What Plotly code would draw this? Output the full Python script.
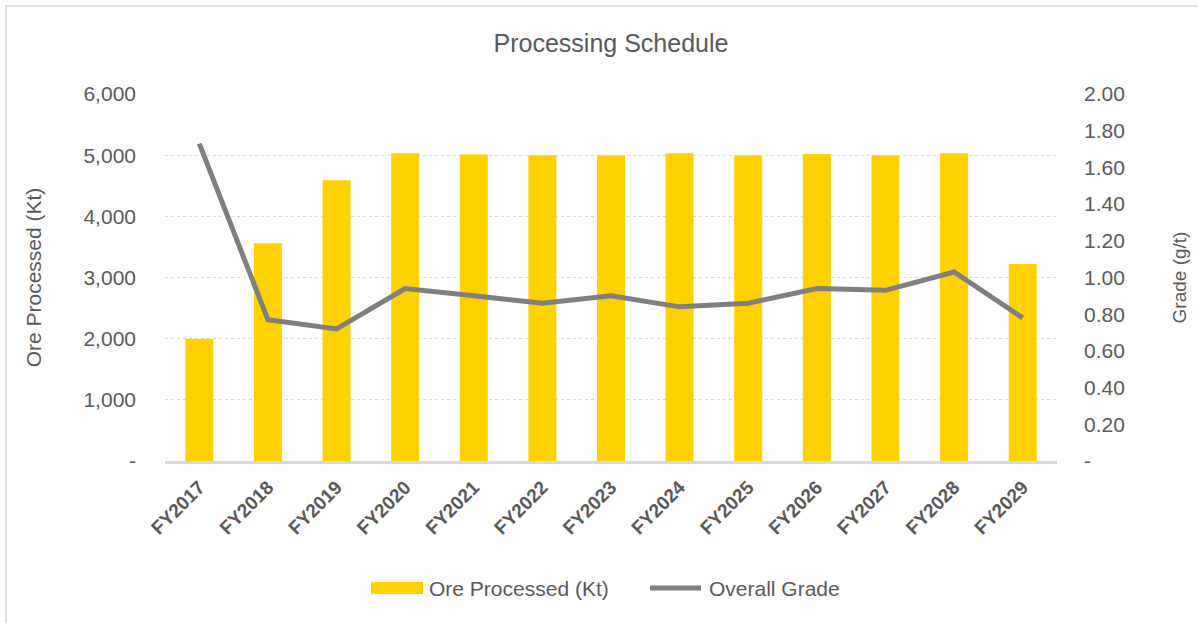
import plotly.graph_objects as go

categories = ["FY2017", "FY2018", "FY2019", "FY2020", "FY2021", "FY2022", "FY2023",
              "FY2024", "FY2025", "FY2026", "FY2027", "FY2028", "FY2029"]
ore_processed_kt = [2000, 3560, 4590, 5030, 5010, 5000, 5000, 5030, 5000, 5020, 5000, 5030, 3220]
overall_grade = [1.73, 0.77, 0.72, 0.94, 0.90, 0.86, 0.90, 0.84, 0.86, 0.94, 0.93, 1.03, 0.78]

left_ticks = [0, 1000, 2000, 3000, 4000, 5000, 6000]
left_ticktext = ["-", "1,000", "2,000", "3,000", "4,000", "5,000", "6,000"]
right_ticks = [0, 0.2, 0.4, 0.6, 0.8, 1.0, 1.2, 1.4, 1.6, 1.8, 2.0]
right_ticktext = ["-", "0.20", "0.40", "0.60", "0.80", "1.00", "1.20", "1.40", "1.60", "1.80", "2.00"]

FONT = "Liberation Sans, Arial, sans-serif"
GREY = "#595959"
BAR_COLOR = "#FFD100"
LINE_COLOR = "#7F7F7F"

W, H = 1198, 623
L, R, T, B = 165, 141, 94, 162
pw, ph = W - L - R, H - T - B


def px(x):
    return (x - L) / pw


def py(y):
    return (H - B - y) / ph


fig = go.Figure()
fig.add_trace(go.Bar(x=categories, y=ore_processed_kt, name="Ore Processed (Kt)",
                     marker=dict(color=BAR_COLOR, line=dict(width=0)), yaxis="y"))
fig.add_trace(go.Scatter(x=categories, y=overall_grade, name="Overall Grade", mode="lines",
                         line=dict(color=LINE_COLOR, width=5), yaxis="y2"))

legend_y = 588
annotations = [
    dict(text="Ore Processed (Kt)", xref="paper", yref="paper", x=px(427), y=py(legend_y),
         xanchor="left", yanchor="middle", showarrow=False, font=dict(size=21, color=GREY, family=FONT)),
    dict(text="Overall Grade", xref="paper", yref="paper", x=px(707), y=py(legend_y),
         xanchor="left", yanchor="middle", showarrow=False, font=dict(size=21, color=GREY, family=FONT)),
]
shapes = [
    dict(type="rect", xref="paper", yref="paper", x0=px(6), x1=px(1240), y0=py(660), y1=py(6),
         line=dict(color="#D9D9D9", width=1.5), fillcolor="rgba(0,0,0,0)", layer="below"),
    dict(type="rect", xref="paper", yref="paper", x0=px(371), x1=px(423), y0=py(594), y1=py(582),
         line=dict(width=0), fillcolor=BAR_COLOR),
    dict(type="line", xref="paper", yref="paper", x0=px(650), x1=px(701), y0=py(legend_y), y1=py(legend_y),
         line=dict(color=LINE_COLOR, width=5)),
]

fig.update_layout(
    width=W, height=H,
    margin=dict(l=L, r=R, t=T, b=B),
    paper_bgcolor="white", plot_bgcolor="white",
    font=dict(family=FONT, color=GREY, size=21),
    title=dict(text="Processing Schedule", x=0.5, xanchor="center", xref="paper",
               y=1 - 43 / H, yanchor="middle",
               font=dict(size=25, color=GREY, family=FONT)),
    bargap=0.592,
    showlegend=False,
    xaxis=dict(tickangle=-45, tickfont=dict(size=19, color=GREY, family=FONT, weight="bold"),
               showgrid=False, showline=True, linecolor="#D9D9D9", linewidth=2.5, ticks="",
               zeroline=False, ticklabelstandoff=5),
    yaxis=dict(range=[0, 6000], tickvals=left_ticks, ticktext=left_ticktext,
               showgrid=True, gridcolor="#D9D9D9", griddash="dot", gridwidth=1,
               zeroline=False, showline=False, ticks="", ticklabelstandoff=28,
               tickfont=dict(size=21, color=GREY),
               title=dict(text="Ore Processed (Kt)", font=dict(size=21, color=GREY), standoff=36)),
    yaxis2=dict(range=[0, 2], tickvals=right_ticks, ticktext=right_ticktext, overlaying="y", side="right",
                showgrid=False, zeroline=False, showline=False, ticks="", ticklabelstandoff=26,
                tickfont=dict(size=21, color=GREY),
                title=dict(text="Grade (g/t)", font=dict(size=19, color=GREY), standoff=48)),
    annotations=annotations,
    shapes=shapes,
)

fig.write_html("out.html", config={"displayModeBar": False},
               post_script="document.body.style.margin='0';")
